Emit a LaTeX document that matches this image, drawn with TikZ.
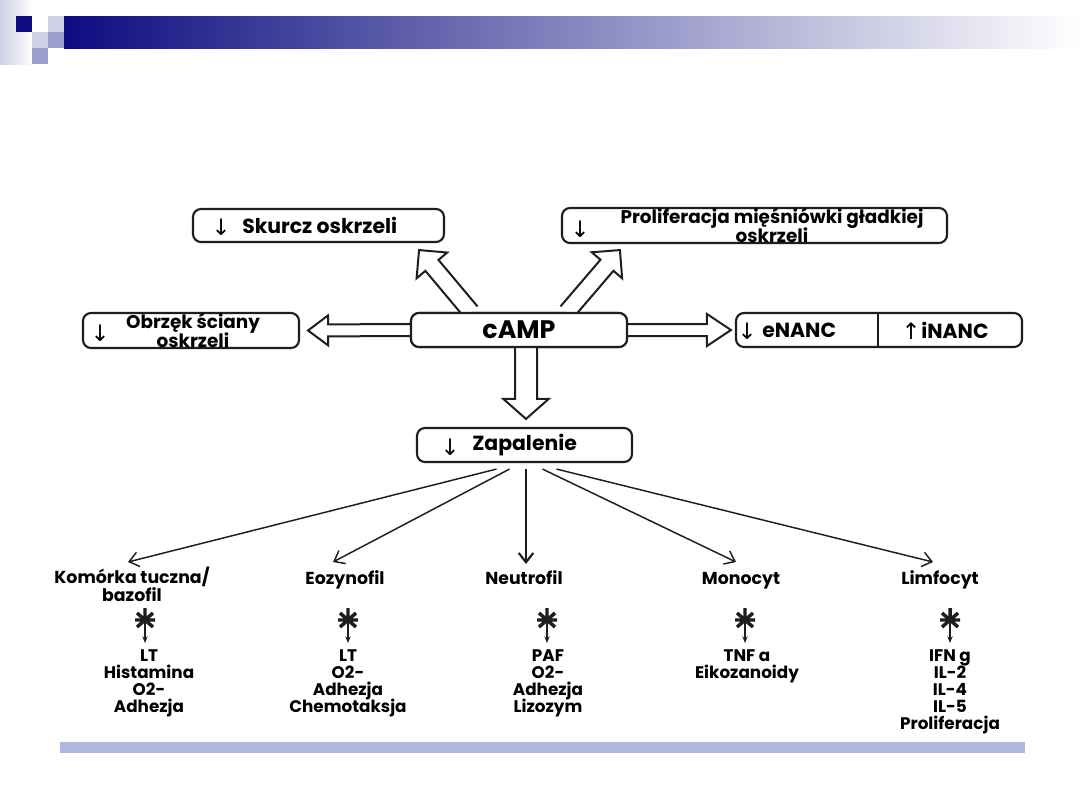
\documentclass[tikz,border=0pt]{standalone}
\usepackage{fontspec}
\setmainfont{Poppins}
\newfontfamily\symf{DejaVu Sans}
\usetikzlibrary{calc,arrows.meta}
\definecolor{linec}{HTML}{1E1E1E}
\definecolor{navyc}{HTML}{0C0C80}
\definecolor{lavl}{HTML}{CFCFE6}
\definecolor{lavm}{HTML}{9C9CCD}
\definecolor{botbar}{HTML}{AEB8E0}
\newcommand{\tightlines}{\lineskiplimit=-30pt\relax}
\newcommand{\blockarrow}[5]{%
  \coordinate (bhA) at ($(#2)!#5!(#1)$);
  \draw[blk] ($(#1)!#3!90:(#2)$) -- ($(bhA)!#3!90:(#2)$) -- ($(bhA)!#4!90:(#2)$) -- (#2)
     -- ($(bhA)!#4!-90:(#2)$) -- ($(bhA)!#3!-90:(#2)$) -- ($(#1)!#3!-90:(#2)$);
}
\tikzset{
  box/.style={draw=linec, line width=1.6pt, rounded corners=6pt, fill=white, inner sep=0pt},
  blk/.style={draw=linec, line width=1.5pt, line join=miter, fill=white},
  thinarr/.style={draw=linec, line width=1.1pt, -{Straight Barb[length=7pt,width=11pt]}},
  lbl/.style={font=\fontsize{13}{13.5}\selectfont\bfseries\tightlines, text=black, inner sep=0pt, align=center, anchor=base},
  lst/.style={font=\fontsize{12.6}{12.75}\selectfont\bfseries\tightlines, text=black, align=center, inner sep=0pt, anchor=base},
  btxt/.style={font=\fontsize{15.3}{13.5}\selectfont\bfseries\tightlines, text=black, inner sep=0pt, align=center},
  btxttwo/.style={font=\fontsize{13.8}{14}\selectfont\bfseries\tightlines, text=black, inner sep=0pt, align=center},
  barr/.style={font=\fontsize{17}{18}\selectfont\symf, text=black, inner sep=0pt},
  astpic/.pic={
    \draw[linec, line width=2.6pt] (-10,0)--(10,0) (-8,-7)--(8,7) (-8,7)--(8,-7) (0,-12)--(0,0);
    \draw[linec, line width=1pt, -{Stealth[length=5pt,width=4pt]}] (0,0)--(0,23);
  }
}
\begin{document}
\begin{tikzpicture}[x=0.75pt,y=-0.75pt]
\useasboundingbox (0,0) rectangle (1080,810);
\fill[white] (0,0) rectangle (1080,810);
% header decoration
\shade[left color=lavl, right color=white] (0,0) rectangle (33,64);
\shade[left color=navyc, right color=white] (64,16) rectangle (1080,48);
\fill[navyc] (16,16) rectangle (32,32);
\fill[lavl] (48,16) rectangle (64,32);
\fill[lavm] (48,32) rectangle (64,48);
\fill[lavl] (32,32) rectangle (48,48);
\fill[lavm] (32,48) rectangle (48,64);
% bottom bar
\fill[botbar] (60,742) rectangle (1025,753);

% box shapes (named)
\node[box, minimum width=251*0.75pt, minimum height=33*0.75pt] (skurcz) at (318.5,225.5) {};
\node[box, minimum width=385*0.75pt, minimum height=35*0.75pt] (prolif) at (754.5,225.5) {};
\node[box, minimum width=216*0.75pt, minimum height=35*0.75pt] (obrzek) at (191,330.5) {};
\node[box, minimum width=216*0.75pt, minimum height=34*0.75pt] (camp) at (519,330) {};
\node[box, minimum width=286*0.75pt, minimum height=34*0.75pt] (nanc) at (879,330) {};
\node[box, minimum width=215*0.75pt, minimum height=34*0.75pt] (zap) at (524.5,445) {};

% block arrows
\coordinate (sL) at (camp.west);
\coordinate (eL) at ($(obrzek.east)+(8,0)$);
\coordinate (sR) at (camp.east);
\coordinate (eR) at ($(nanc.west)+(-4,0)$);
\coordinate (sD) at ($(camp.south)+(7,0)$);
\coordinate (eD) at ($(zap.north)+(1.5,-8)$);
\coordinate (sUL) at ($(camp.north)+(-48,0)$);
\coordinate (eUL) at ($(skurcz.south east)+(-26,7)$);
\coordinate (sUR) at ($(camp.north)+(48,0)$);
\coordinate (eUR) at ($(prolif.south west)+(59,6)$);
\blockarrow{sL}{eL}{4.5pt}{11.25pt}{15pt}
\blockarrow{sR}{eR}{4.5pt}{12pt}{18pt}
\blockarrow{sD}{eD}{8.25pt}{17pt}{15pt}
\blockarrow{sUL}{eUL}{6.4pt}{15pt}{15pt}
\blockarrow{sUR}{eUR}{6.4pt}{15pt}{15pt}

% redraw box on top
\node[box, minimum width=216*0.75pt, minimum height=34*0.75pt] at (camp) {};
\draw[linec, line width=1.6pt] ($(nanc.north)+(-1,0)$) -- ($(nanc.south)+(-1,0)$);

% box texts
\node[barr] (arS) at (221,227) {↓};
\node[btxt, anchor=west] (tS) at (242,225) {Skurcz oskrzeli};
\node[barr] (arP) at (580,229) {↓};
\node[btxttwo] (tP) at (772,225.5) {Proliferacja mięśniówki gładkiej\\oskrzeli};
\node[barr] (arO) at (100,333) {↓};
\node[btxttwo] (tO) at (193,330.5) {Obrzęk ściany\\oskrzeli};
\node[btxt, font=\fontsize{19}{20}\selectfont\bfseries] (tC) at (519,330) {cAMP};
\node[barr] (arE) at (747,331) {↓};
\node[btxt, anchor=west] (tE) at (762,330) {eNANC};
\node[barr] (arI) at (911,331) {↑};
\node[btxt, anchor=west] (tI) at (921,330) {iNANC};
\node[barr] (arZ) at (450,447) {↓};
\node[btxt, anchor=west] (tZ) at (472,445) {Zapalenie};

% cell labels (base = baseline of last line)
\node[lbl] (c1) at (132,601) {Komórka tuczna/\\bazofil};
\node[lbl] (c2) at (345,584) {Eozynofil};
\node[lbl] (c3) at (524,584) {Neutrofil};
\node[lbl] (c4) at (741,584) {Monocyt};
\node[lbl] (c5) at (940,584) {Limfocyt};

% thin arrows
\coordinate (z1) at ($(zap.south)+(-28,6)$);
\coordinate (z2) at ($(zap.south)+(-15,6)$);
\coordinate (z3) at ($(zap.south)+(1.5,6)$);
\coordinate (z4) at ($(zap.south)+(18,6)$);
\coordinate (z5) at ($(zap.south)+(32,6)$);
\draw[thinarr] (z1) -- ($(c1.base)+(-4,-39)$);
\draw[thinarr] (z2) -- ($(c2.base)+(-12,-22)$);
\draw[thinarr, line width=1.6pt] (z3) -- ($(c3.base)+(2,-20)$);
\draw[thinarr] (z4) -- ($(c4.base)+(-5,-22)$);
\draw[thinarr] (z5) -- ($(c5.base)+(-7,-22)$);

% asterisks
\pic at (145,620) {astpic};
\pic at (348,620) {astpic};
\pic at (547,620) {astpic};
\pic at (745,620) {astpic};
\pic at (950,620) {astpic};

% lists (base = baseline of last line)
\node[lst] (l1) at (149,712) {LT\\Histamina\\O2-\\Adhezja};
\node[lst] (l2) at (348,712) {LT\\O2-\\Adhezja\\Chemotaksja};
\node[lst] (l3) at (548,712) {PAF\\O2-\\Adhezja\\Lizozym};
\node[lst] (l4) at (747,678) {TNF a\\Eikozanoidy};
\node[lst] (l5) at (950,729) {IFN g\\IL-2\\IL-4\\IL-5\\Proliferacja};
\end{tikzpicture}
\end{document}
